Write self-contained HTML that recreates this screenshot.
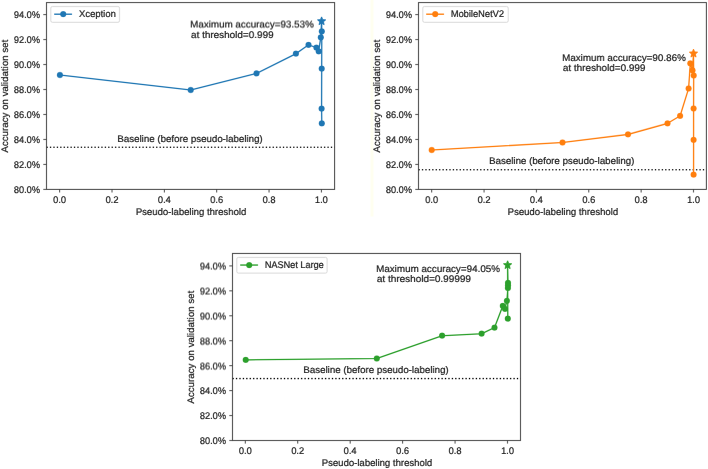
<!DOCTYPE html>
<html><head><meta charset="utf-8"><style>
html,body{margin:0;padding:0;background:#fff;}
body{width:708px;height:469px;overflow:hidden;}
svg{display:block;}
#wrap{width:708px;height:469px;will-change:transform;}
text{font-family:"Liberation Sans", sans-serif;fill:#1c1c1c;stroke:#1c1c1c;stroke-width:0.2px;text-rendering:geometricPrecision;}
</style></head><body>
<div id="wrap"><svg width="708" height="469" viewBox="0 0 708 469">
<g transform="translate(-0.15,-0.15)">
<rect x="-2" y="-2" width="712" height="473" fill="#fff"/>
<rect x="370.6" y="0" width="2.8" height="216.5" fill="#fffff0"/>
<line x1="59.66" y1="189.40" x2="59.66" y2="192.50" stroke="#3c3c3c" stroke-width="0.9"/>
<text x="59.66" y="202.90" text-anchor="middle" font-size="9.6" textLength="12.90" lengthAdjust="spacingAndGlyphs">0.0</text>
<line x1="112.01" y1="189.40" x2="112.01" y2="192.50" stroke="#3c3c3c" stroke-width="0.9"/>
<text x="112.01" y="202.90" text-anchor="middle" font-size="9.6" textLength="12.90" lengthAdjust="spacingAndGlyphs">0.2</text>
<line x1="164.36" y1="189.40" x2="164.36" y2="192.50" stroke="#3c3c3c" stroke-width="0.9"/>
<text x="164.36" y="202.90" text-anchor="middle" font-size="9.6" textLength="12.90" lengthAdjust="spacingAndGlyphs">0.4</text>
<line x1="216.70" y1="189.40" x2="216.70" y2="192.50" stroke="#3c3c3c" stroke-width="0.9"/>
<text x="216.70" y="202.90" text-anchor="middle" font-size="9.6" textLength="12.90" lengthAdjust="spacingAndGlyphs">0.6</text>
<line x1="269.05" y1="189.40" x2="269.05" y2="192.50" stroke="#3c3c3c" stroke-width="0.9"/>
<text x="269.05" y="202.90" text-anchor="middle" font-size="9.6" textLength="12.90" lengthAdjust="spacingAndGlyphs">0.8</text>
<line x1="321.40" y1="189.40" x2="321.40" y2="192.50" stroke="#3c3c3c" stroke-width="0.9"/>
<text x="321.40" y="202.90" text-anchor="middle" font-size="9.6" textLength="12.90" lengthAdjust="spacingAndGlyphs">1.0</text>
<line x1="43.30" y1="189.40" x2="46.50" y2="189.40" stroke="#3c3c3c" stroke-width="0.9"/>
<text x="40.00" y="193.10" text-anchor="end" font-size="9.6" textLength="26.10" lengthAdjust="spacingAndGlyphs">80.0%</text>
<line x1="43.30" y1="164.43" x2="46.50" y2="164.43" stroke="#3c3c3c" stroke-width="0.9"/>
<text x="40.00" y="168.13" text-anchor="end" font-size="9.6" textLength="26.10" lengthAdjust="spacingAndGlyphs">82.0%</text>
<line x1="43.30" y1="139.46" x2="46.50" y2="139.46" stroke="#3c3c3c" stroke-width="0.9"/>
<text x="40.00" y="143.16" text-anchor="end" font-size="9.6" textLength="26.10" lengthAdjust="spacingAndGlyphs">84.0%</text>
<line x1="43.30" y1="114.48" x2="46.50" y2="114.48" stroke="#3c3c3c" stroke-width="0.9"/>
<text x="40.00" y="118.18" text-anchor="end" font-size="9.6" textLength="26.10" lengthAdjust="spacingAndGlyphs">86.0%</text>
<line x1="43.30" y1="89.51" x2="46.50" y2="89.51" stroke="#3c3c3c" stroke-width="0.9"/>
<text x="40.00" y="93.21" text-anchor="end" font-size="9.6" textLength="26.10" lengthAdjust="spacingAndGlyphs">88.0%</text>
<line x1="43.30" y1="64.54" x2="46.50" y2="64.54" stroke="#3c3c3c" stroke-width="0.9"/>
<text x="40.00" y="68.24" text-anchor="end" font-size="9.6" textLength="26.10" lengthAdjust="spacingAndGlyphs">90.0%</text>
<line x1="43.30" y1="39.57" x2="46.50" y2="39.57" stroke="#3c3c3c" stroke-width="0.9"/>
<text x="40.00" y="43.27" text-anchor="end" font-size="9.6" textLength="26.10" lengthAdjust="spacingAndGlyphs">92.0%</text>
<line x1="43.30" y1="14.60" x2="46.50" y2="14.60" stroke="#3c3c3c" stroke-width="0.9"/>
<text x="40.00" y="18.30" text-anchor="end" font-size="9.6" textLength="26.10" lengthAdjust="spacingAndGlyphs">94.0%</text>
<text x="191.05" y="214.80" text-anchor="middle" font-size="9.6" textLength="110.50" lengthAdjust="spacingAndGlyphs">Pseudo-labeling threshold</text>
<text x="0" y="0" transform="translate(7.70,96.18) rotate(-90)" text-anchor="middle" font-size="9.6" textLength="112.8" lengthAdjust="spacingAndGlyphs">Accuracy on validation set</text>
<line x1="46.50" y1="147.30" x2="334.60" y2="147.30" stroke="#000" stroke-width="1.29" stroke-dasharray="1.29 2.136"/>
<text x="117.40" y="141.70" text-anchor="start" font-size="9.6" textLength="145.30" lengthAdjust="spacingAndGlyphs">Baseline (before pseudo-labeling)</text>
<polyline points="59.90,75.00 190.70,90.00 256.50,73.40 295.90,53.70 308.50,44.90 316.40,47.60 318.70,51.30 320.80,37.30 321.60,21.20 321.80,31.40 321.70,68.70 321.60,108.60 321.80,123.40" fill="none" stroke="#1f77b4" stroke-width="1.3" stroke-linejoin="round"/>
<circle cx="59.90" cy="75.00" r="3.0" fill="#1f77b4"/>
<circle cx="190.70" cy="90.00" r="3.0" fill="#1f77b4"/>
<circle cx="256.50" cy="73.40" r="3.0" fill="#1f77b4"/>
<circle cx="295.90" cy="53.70" r="3.0" fill="#1f77b4"/>
<circle cx="308.50" cy="44.90" r="3.0" fill="#1f77b4"/>
<circle cx="316.40" cy="47.60" r="3.0" fill="#1f77b4"/>
<circle cx="318.70" cy="51.30" r="3.0" fill="#1f77b4"/>
<circle cx="320.80" cy="37.30" r="3.0" fill="#1f77b4"/>
<circle cx="321.80" cy="31.40" r="3.0" fill="#1f77b4"/>
<circle cx="321.70" cy="68.70" r="3.0" fill="#1f77b4"/>
<circle cx="321.60" cy="108.60" r="3.0" fill="#1f77b4"/>
<circle cx="321.80" cy="123.40" r="3.0" fill="#1f77b4"/>
<polygon points="321.60,16.90 322.71,19.67 325.69,19.87 323.40,21.78 324.13,24.68 321.60,23.09 319.07,24.68 319.80,21.78 317.51,19.87 320.49,19.67" fill="#1f77b4" stroke="#1f77b4" stroke-width="0.9" stroke-linejoin="bevel"/>
<text x="190.20" y="27.50" text-anchor="start" font-size="9.6" textLength="123.60" lengthAdjust="spacingAndGlyphs">Maximum accuracy=93.53%</text>
<text x="191.00" y="37.70" text-anchor="start" font-size="9.6" textLength="82.60" lengthAdjust="spacingAndGlyphs">at threshold=0.999</text>
<rect x="50.80" y="6.50" width="68.70" height="15.80" rx="1.6" ry="1.6" fill="#fff" stroke="#d6d6d6" stroke-width="0.9"/>
<line x1="54.20" y1="14.20" x2="72.00" y2="14.20" stroke="#1f77b4" stroke-width="1.35"/>
<circle cx="63.20" cy="14.20" r="3.0" fill="#1f77b4"/>
<text x="79.00" y="17.30" text-anchor="start" font-size="9.6" textLength="36.80" lengthAdjust="spacingAndGlyphs">Xception</text>
<rect x="46.50" y="2.56" width="288.10" height="186.84" fill="none" stroke="#3c3c3c" stroke-width="0.95"/>
<line x1="431.70" y1="189.40" x2="431.70" y2="192.50" stroke="#3c3c3c" stroke-width="0.9"/>
<text x="431.70" y="202.90" text-anchor="middle" font-size="9.6" textLength="12.90" lengthAdjust="spacingAndGlyphs">0.0</text>
<line x1="484.06" y1="189.40" x2="484.06" y2="192.50" stroke="#3c3c3c" stroke-width="0.9"/>
<text x="484.06" y="202.90" text-anchor="middle" font-size="9.6" textLength="12.90" lengthAdjust="spacingAndGlyphs">0.2</text>
<line x1="536.42" y1="189.40" x2="536.42" y2="192.50" stroke="#3c3c3c" stroke-width="0.9"/>
<text x="536.42" y="202.90" text-anchor="middle" font-size="9.6" textLength="12.90" lengthAdjust="spacingAndGlyphs">0.4</text>
<line x1="588.78" y1="189.40" x2="588.78" y2="192.50" stroke="#3c3c3c" stroke-width="0.9"/>
<text x="588.78" y="202.90" text-anchor="middle" font-size="9.6" textLength="12.90" lengthAdjust="spacingAndGlyphs">0.6</text>
<line x1="641.14" y1="189.40" x2="641.14" y2="192.50" stroke="#3c3c3c" stroke-width="0.9"/>
<text x="641.14" y="202.90" text-anchor="middle" font-size="9.6" textLength="12.90" lengthAdjust="spacingAndGlyphs">0.8</text>
<line x1="693.50" y1="189.40" x2="693.50" y2="192.50" stroke="#3c3c3c" stroke-width="0.9"/>
<text x="693.50" y="202.90" text-anchor="middle" font-size="9.6" textLength="12.90" lengthAdjust="spacingAndGlyphs">1.0</text>
<line x1="415.30" y1="189.40" x2="418.50" y2="189.40" stroke="#3c3c3c" stroke-width="0.9"/>
<text x="412.00" y="193.10" text-anchor="end" font-size="9.6" textLength="26.10" lengthAdjust="spacingAndGlyphs">80.0%</text>
<line x1="415.30" y1="164.43" x2="418.50" y2="164.43" stroke="#3c3c3c" stroke-width="0.9"/>
<text x="412.00" y="168.13" text-anchor="end" font-size="9.6" textLength="26.10" lengthAdjust="spacingAndGlyphs">82.0%</text>
<line x1="415.30" y1="139.46" x2="418.50" y2="139.46" stroke="#3c3c3c" stroke-width="0.9"/>
<text x="412.00" y="143.16" text-anchor="end" font-size="9.6" textLength="26.10" lengthAdjust="spacingAndGlyphs">84.0%</text>
<line x1="415.30" y1="114.48" x2="418.50" y2="114.48" stroke="#3c3c3c" stroke-width="0.9"/>
<text x="412.00" y="118.18" text-anchor="end" font-size="9.6" textLength="26.10" lengthAdjust="spacingAndGlyphs">86.0%</text>
<line x1="415.30" y1="89.51" x2="418.50" y2="89.51" stroke="#3c3c3c" stroke-width="0.9"/>
<text x="412.00" y="93.21" text-anchor="end" font-size="9.6" textLength="26.10" lengthAdjust="spacingAndGlyphs">88.0%</text>
<line x1="415.30" y1="64.54" x2="418.50" y2="64.54" stroke="#3c3c3c" stroke-width="0.9"/>
<text x="412.00" y="68.24" text-anchor="end" font-size="9.6" textLength="26.10" lengthAdjust="spacingAndGlyphs">90.0%</text>
<line x1="415.30" y1="39.57" x2="418.50" y2="39.57" stroke="#3c3c3c" stroke-width="0.9"/>
<text x="412.00" y="43.27" text-anchor="end" font-size="9.6" textLength="26.10" lengthAdjust="spacingAndGlyphs">92.0%</text>
<line x1="415.30" y1="14.60" x2="418.50" y2="14.60" stroke="#3c3c3c" stroke-width="0.9"/>
<text x="412.00" y="18.30" text-anchor="end" font-size="9.6" textLength="26.10" lengthAdjust="spacingAndGlyphs">94.0%</text>
<text x="562.93" y="214.80" text-anchor="middle" font-size="9.6" textLength="110.50" lengthAdjust="spacingAndGlyphs">Pseudo-labeling threshold</text>
<text x="0" y="0" transform="translate(379.70,96.18) rotate(-90)" text-anchor="middle" font-size="9.6" textLength="112.8" lengthAdjust="spacingAndGlyphs">Accuracy on validation set</text>
<line x1="418.50" y1="169.70" x2="706.36" y2="169.70" stroke="#000" stroke-width="1.29" stroke-dasharray="1.29 2.136"/>
<text x="489.10" y="163.80" text-anchor="start" font-size="9.6" textLength="145.30" lengthAdjust="spacingAndGlyphs">Baseline (before pseudo-labeling)</text>
<polyline points="431.70,150.00 562.50,142.50 628.00,134.40 667.50,123.40 680.10,115.90 688.60,88.50 690.30,63.40 692.50,70.30 693.50,53.50 693.70,75.50 693.60,108.50 693.60,139.90 693.60,174.70" fill="none" stroke="#ff7f0e" stroke-width="1.3" stroke-linejoin="round"/>
<circle cx="431.70" cy="150.00" r="3.0" fill="#ff7f0e"/>
<circle cx="562.50" cy="142.50" r="3.0" fill="#ff7f0e"/>
<circle cx="628.00" cy="134.40" r="3.0" fill="#ff7f0e"/>
<circle cx="667.50" cy="123.40" r="3.0" fill="#ff7f0e"/>
<circle cx="680.10" cy="115.90" r="3.0" fill="#ff7f0e"/>
<circle cx="688.60" cy="88.50" r="3.0" fill="#ff7f0e"/>
<circle cx="690.30" cy="63.40" r="3.0" fill="#ff7f0e"/>
<circle cx="692.50" cy="70.30" r="3.0" fill="#ff7f0e"/>
<circle cx="693.70" cy="75.50" r="3.0" fill="#ff7f0e"/>
<circle cx="693.60" cy="108.50" r="3.0" fill="#ff7f0e"/>
<circle cx="693.60" cy="139.90" r="3.0" fill="#ff7f0e"/>
<circle cx="693.60" cy="174.70" r="3.0" fill="#ff7f0e"/>
<polygon points="693.50,49.20 694.61,51.97 697.59,52.17 695.30,54.08 696.03,56.98 693.50,55.39 690.97,56.98 691.70,54.08 689.41,52.17 692.39,51.97" fill="#ff7f0e" stroke="#ff7f0e" stroke-width="0.9" stroke-linejoin="bevel"/>
<text x="562.10" y="60.90" text-anchor="start" font-size="9.6" textLength="123.70" lengthAdjust="spacingAndGlyphs">Maximum accuracy=90.86%</text>
<text x="562.90" y="71.10" text-anchor="start" font-size="9.6" textLength="82.50" lengthAdjust="spacingAndGlyphs">at threshold=0.999</text>
<rect x="422.80" y="6.50" width="85.40" height="15.80" rx="1.6" ry="1.6" fill="#fff" stroke="#d6d6d6" stroke-width="0.9"/>
<line x1="426.20" y1="14.20" x2="444.00" y2="14.20" stroke="#ff7f0e" stroke-width="1.35"/>
<circle cx="435.20" cy="14.20" r="3.0" fill="#ff7f0e"/>
<text x="450.80" y="17.10" text-anchor="start" font-size="9.6" textLength="53.20" lengthAdjust="spacingAndGlyphs">MobileNetV2</text>
<rect x="418.50" y="2.56" width="287.86" height="186.84" fill="none" stroke="#3c3c3c" stroke-width="0.95"/>
<line x1="245.30" y1="440.50" x2="245.30" y2="443.60" stroke="#3c3c3c" stroke-width="0.9"/>
<text x="245.30" y="454.00" text-anchor="middle" font-size="9.6" textLength="12.90" lengthAdjust="spacingAndGlyphs">0.0</text>
<line x1="297.74" y1="440.50" x2="297.74" y2="443.60" stroke="#3c3c3c" stroke-width="0.9"/>
<text x="297.74" y="454.00" text-anchor="middle" font-size="9.6" textLength="12.90" lengthAdjust="spacingAndGlyphs">0.2</text>
<line x1="350.18" y1="440.50" x2="350.18" y2="443.60" stroke="#3c3c3c" stroke-width="0.9"/>
<text x="350.18" y="454.00" text-anchor="middle" font-size="9.6" textLength="12.90" lengthAdjust="spacingAndGlyphs">0.4</text>
<line x1="402.62" y1="440.50" x2="402.62" y2="443.60" stroke="#3c3c3c" stroke-width="0.9"/>
<text x="402.62" y="454.00" text-anchor="middle" font-size="9.6" textLength="12.90" lengthAdjust="spacingAndGlyphs">0.6</text>
<line x1="455.06" y1="440.50" x2="455.06" y2="443.60" stroke="#3c3c3c" stroke-width="0.9"/>
<text x="455.06" y="454.00" text-anchor="middle" font-size="9.6" textLength="12.90" lengthAdjust="spacingAndGlyphs">0.8</text>
<line x1="507.50" y1="440.50" x2="507.50" y2="443.60" stroke="#3c3c3c" stroke-width="0.9"/>
<text x="507.50" y="454.00" text-anchor="middle" font-size="9.6" textLength="12.90" lengthAdjust="spacingAndGlyphs">1.0</text>
<line x1="229.30" y1="440.50" x2="232.50" y2="440.50" stroke="#3c3c3c" stroke-width="0.9"/>
<text x="226.00" y="444.20" text-anchor="end" font-size="9.6" textLength="26.10" lengthAdjust="spacingAndGlyphs">80.0%</text>
<line x1="229.30" y1="415.56" x2="232.50" y2="415.56" stroke="#3c3c3c" stroke-width="0.9"/>
<text x="226.00" y="419.26" text-anchor="end" font-size="9.6" textLength="26.10" lengthAdjust="spacingAndGlyphs">82.0%</text>
<line x1="229.30" y1="390.62" x2="232.50" y2="390.62" stroke="#3c3c3c" stroke-width="0.9"/>
<text x="226.00" y="394.32" text-anchor="end" font-size="9.6" textLength="26.10" lengthAdjust="spacingAndGlyphs">84.0%</text>
<line x1="229.30" y1="365.68" x2="232.50" y2="365.68" stroke="#3c3c3c" stroke-width="0.9"/>
<text x="226.00" y="369.38" text-anchor="end" font-size="9.6" textLength="26.10" lengthAdjust="spacingAndGlyphs">86.0%</text>
<line x1="229.30" y1="340.74" x2="232.50" y2="340.74" stroke="#3c3c3c" stroke-width="0.9"/>
<text x="226.00" y="344.44" text-anchor="end" font-size="9.6" textLength="26.10" lengthAdjust="spacingAndGlyphs">88.0%</text>
<line x1="229.30" y1="315.80" x2="232.50" y2="315.80" stroke="#3c3c3c" stroke-width="0.9"/>
<text x="226.00" y="319.50" text-anchor="end" font-size="9.6" textLength="26.10" lengthAdjust="spacingAndGlyphs">90.0%</text>
<line x1="229.30" y1="290.86" x2="232.50" y2="290.86" stroke="#3c3c3c" stroke-width="0.9"/>
<text x="226.00" y="294.56" text-anchor="end" font-size="9.6" textLength="26.10" lengthAdjust="spacingAndGlyphs">92.0%</text>
<line x1="229.30" y1="265.92" x2="232.50" y2="265.92" stroke="#3c3c3c" stroke-width="0.9"/>
<text x="226.00" y="269.62" text-anchor="end" font-size="9.6" textLength="26.10" lengthAdjust="spacingAndGlyphs">94.0%</text>
<text x="377.00" y="465.90" text-anchor="middle" font-size="9.6" textLength="110.50" lengthAdjust="spacingAndGlyphs">Pseudo-labeling threshold</text>
<text x="0" y="0" transform="translate(193.70,347.18) rotate(-90)" text-anchor="middle" font-size="9.6" textLength="112.8" lengthAdjust="spacingAndGlyphs">Accuracy on validation set</text>
<line x1="232.50" y1="378.60" x2="520.50" y2="378.60" stroke="#000" stroke-width="1.29" stroke-dasharray="1.29 2.136"/>
<text x="303.40" y="372.90" text-anchor="start" font-size="9.6" textLength="145.30" lengthAdjust="spacingAndGlyphs">Baseline (before pseudo-labeling)</text>
<polyline points="245.70,359.90 376.80,358.50 442.10,335.70 481.60,333.70 494.50,327.60 502.80,305.90 505.00,308.80 506.90,300.80 507.90,288.00 508.00,285.30 508.00,282.80 507.60,265.10 507.80,318.60" fill="none" stroke="#2ca02c" stroke-width="1.3" stroke-linejoin="round"/>
<circle cx="245.70" cy="359.90" r="3.0" fill="#2ca02c"/>
<circle cx="376.80" cy="358.50" r="3.0" fill="#2ca02c"/>
<circle cx="442.10" cy="335.70" r="3.0" fill="#2ca02c"/>
<circle cx="481.60" cy="333.70" r="3.0" fill="#2ca02c"/>
<circle cx="494.50" cy="327.60" r="3.0" fill="#2ca02c"/>
<circle cx="502.80" cy="305.90" r="3.0" fill="#2ca02c"/>
<circle cx="505.00" cy="308.80" r="3.0" fill="#2ca02c"/>
<circle cx="506.90" cy="300.80" r="3.0" fill="#2ca02c"/>
<circle cx="507.90" cy="288.00" r="3.0" fill="#2ca02c"/>
<circle cx="508.00" cy="285.30" r="3.0" fill="#2ca02c"/>
<circle cx="508.00" cy="282.80" r="3.0" fill="#2ca02c"/>
<circle cx="507.80" cy="318.60" r="3.0" fill="#2ca02c"/>
<polygon points="507.60,260.80 508.71,263.57 511.69,263.77 509.40,265.68 510.13,268.58 507.60,266.99 505.07,268.58 505.80,265.68 503.51,263.77 506.49,263.57" fill="#2ca02c" stroke="#2ca02c" stroke-width="0.9" stroke-linejoin="bevel"/>
<text x="376.10" y="271.80" text-anchor="start" font-size="9.6" textLength="123.90" lengthAdjust="spacingAndGlyphs">Maximum accuracy=94.05%</text>
<text x="376.90" y="282.00" text-anchor="start" font-size="9.6" textLength="94.10" lengthAdjust="spacingAndGlyphs">at threshold=0.99999</text>
<rect x="236.80" y="257.40" width="90.30" height="15.70" rx="1.6" ry="1.6" fill="#fff" stroke="#d6d6d6" stroke-width="0.9"/>
<line x1="240.20" y1="265.05" x2="258.00" y2="265.05" stroke="#2ca02c" stroke-width="1.35"/>
<circle cx="249.20" cy="265.05" r="3.0" fill="#2ca02c"/>
<text x="264.80" y="268.10" text-anchor="start" font-size="9.6" textLength="59.00" lengthAdjust="spacingAndGlyphs">NASNet Large</text>
<rect x="232.50" y="253.45" width="288.00" height="187.05" fill="none" stroke="#3c3c3c" stroke-width="0.95"/>
</g>
<g transform="translate(0.15,-0.15)" opacity="0.5">
<rect x="-2" y="-2" width="712" height="473" fill="#fff"/>
<rect x="370.6" y="0" width="2.8" height="216.5" fill="#fffff0"/>
<line x1="59.66" y1="189.40" x2="59.66" y2="192.50" stroke="#3c3c3c" stroke-width="0.9"/>
<text x="59.66" y="202.90" text-anchor="middle" font-size="9.6" textLength="12.90" lengthAdjust="spacingAndGlyphs">0.0</text>
<line x1="112.01" y1="189.40" x2="112.01" y2="192.50" stroke="#3c3c3c" stroke-width="0.9"/>
<text x="112.01" y="202.90" text-anchor="middle" font-size="9.6" textLength="12.90" lengthAdjust="spacingAndGlyphs">0.2</text>
<line x1="164.36" y1="189.40" x2="164.36" y2="192.50" stroke="#3c3c3c" stroke-width="0.9"/>
<text x="164.36" y="202.90" text-anchor="middle" font-size="9.6" textLength="12.90" lengthAdjust="spacingAndGlyphs">0.4</text>
<line x1="216.70" y1="189.40" x2="216.70" y2="192.50" stroke="#3c3c3c" stroke-width="0.9"/>
<text x="216.70" y="202.90" text-anchor="middle" font-size="9.6" textLength="12.90" lengthAdjust="spacingAndGlyphs">0.6</text>
<line x1="269.05" y1="189.40" x2="269.05" y2="192.50" stroke="#3c3c3c" stroke-width="0.9"/>
<text x="269.05" y="202.90" text-anchor="middle" font-size="9.6" textLength="12.90" lengthAdjust="spacingAndGlyphs">0.8</text>
<line x1="321.40" y1="189.40" x2="321.40" y2="192.50" stroke="#3c3c3c" stroke-width="0.9"/>
<text x="321.40" y="202.90" text-anchor="middle" font-size="9.6" textLength="12.90" lengthAdjust="spacingAndGlyphs">1.0</text>
<line x1="43.30" y1="189.40" x2="46.50" y2="189.40" stroke="#3c3c3c" stroke-width="0.9"/>
<text x="40.00" y="193.10" text-anchor="end" font-size="9.6" textLength="26.10" lengthAdjust="spacingAndGlyphs">80.0%</text>
<line x1="43.30" y1="164.43" x2="46.50" y2="164.43" stroke="#3c3c3c" stroke-width="0.9"/>
<text x="40.00" y="168.13" text-anchor="end" font-size="9.6" textLength="26.10" lengthAdjust="spacingAndGlyphs">82.0%</text>
<line x1="43.30" y1="139.46" x2="46.50" y2="139.46" stroke="#3c3c3c" stroke-width="0.9"/>
<text x="40.00" y="143.16" text-anchor="end" font-size="9.6" textLength="26.10" lengthAdjust="spacingAndGlyphs">84.0%</text>
<line x1="43.30" y1="114.48" x2="46.50" y2="114.48" stroke="#3c3c3c" stroke-width="0.9"/>
<text x="40.00" y="118.18" text-anchor="end" font-size="9.6" textLength="26.10" lengthAdjust="spacingAndGlyphs">86.0%</text>
<line x1="43.30" y1="89.51" x2="46.50" y2="89.51" stroke="#3c3c3c" stroke-width="0.9"/>
<text x="40.00" y="93.21" text-anchor="end" font-size="9.6" textLength="26.10" lengthAdjust="spacingAndGlyphs">88.0%</text>
<line x1="43.30" y1="64.54" x2="46.50" y2="64.54" stroke="#3c3c3c" stroke-width="0.9"/>
<text x="40.00" y="68.24" text-anchor="end" font-size="9.6" textLength="26.10" lengthAdjust="spacingAndGlyphs">90.0%</text>
<line x1="43.30" y1="39.57" x2="46.50" y2="39.57" stroke="#3c3c3c" stroke-width="0.9"/>
<text x="40.00" y="43.27" text-anchor="end" font-size="9.6" textLength="26.10" lengthAdjust="spacingAndGlyphs">92.0%</text>
<line x1="43.30" y1="14.60" x2="46.50" y2="14.60" stroke="#3c3c3c" stroke-width="0.9"/>
<text x="40.00" y="18.30" text-anchor="end" font-size="9.6" textLength="26.10" lengthAdjust="spacingAndGlyphs">94.0%</text>
<text x="191.05" y="214.80" text-anchor="middle" font-size="9.6" textLength="110.50" lengthAdjust="spacingAndGlyphs">Pseudo-labeling threshold</text>
<text x="0" y="0" transform="translate(7.70,96.18) rotate(-90)" text-anchor="middle" font-size="9.6" textLength="112.8" lengthAdjust="spacingAndGlyphs">Accuracy on validation set</text>
<line x1="46.50" y1="147.30" x2="334.60" y2="147.30" stroke="#000" stroke-width="1.29" stroke-dasharray="1.29 2.136"/>
<text x="117.40" y="141.70" text-anchor="start" font-size="9.6" textLength="145.30" lengthAdjust="spacingAndGlyphs">Baseline (before pseudo-labeling)</text>
<polyline points="59.90,75.00 190.70,90.00 256.50,73.40 295.90,53.70 308.50,44.90 316.40,47.60 318.70,51.30 320.80,37.30 321.60,21.20 321.80,31.40 321.70,68.70 321.60,108.60 321.80,123.40" fill="none" stroke="#1f77b4" stroke-width="1.3" stroke-linejoin="round"/>
<circle cx="59.90" cy="75.00" r="3.0" fill="#1f77b4"/>
<circle cx="190.70" cy="90.00" r="3.0" fill="#1f77b4"/>
<circle cx="256.50" cy="73.40" r="3.0" fill="#1f77b4"/>
<circle cx="295.90" cy="53.70" r="3.0" fill="#1f77b4"/>
<circle cx="308.50" cy="44.90" r="3.0" fill="#1f77b4"/>
<circle cx="316.40" cy="47.60" r="3.0" fill="#1f77b4"/>
<circle cx="318.70" cy="51.30" r="3.0" fill="#1f77b4"/>
<circle cx="320.80" cy="37.30" r="3.0" fill="#1f77b4"/>
<circle cx="321.80" cy="31.40" r="3.0" fill="#1f77b4"/>
<circle cx="321.70" cy="68.70" r="3.0" fill="#1f77b4"/>
<circle cx="321.60" cy="108.60" r="3.0" fill="#1f77b4"/>
<circle cx="321.80" cy="123.40" r="3.0" fill="#1f77b4"/>
<polygon points="321.60,16.90 322.71,19.67 325.69,19.87 323.40,21.78 324.13,24.68 321.60,23.09 319.07,24.68 319.80,21.78 317.51,19.87 320.49,19.67" fill="#1f77b4" stroke="#1f77b4" stroke-width="0.9" stroke-linejoin="bevel"/>
<text x="190.20" y="27.50" text-anchor="start" font-size="9.6" textLength="123.60" lengthAdjust="spacingAndGlyphs">Maximum accuracy=93.53%</text>
<text x="191.00" y="37.70" text-anchor="start" font-size="9.6" textLength="82.60" lengthAdjust="spacingAndGlyphs">at threshold=0.999</text>
<rect x="50.80" y="6.50" width="68.70" height="15.80" rx="1.6" ry="1.6" fill="#fff" stroke="#d6d6d6" stroke-width="0.9"/>
<line x1="54.20" y1="14.20" x2="72.00" y2="14.20" stroke="#1f77b4" stroke-width="1.35"/>
<circle cx="63.20" cy="14.20" r="3.0" fill="#1f77b4"/>
<text x="79.00" y="17.30" text-anchor="start" font-size="9.6" textLength="36.80" lengthAdjust="spacingAndGlyphs">Xception</text>
<rect x="46.50" y="2.56" width="288.10" height="186.84" fill="none" stroke="#3c3c3c" stroke-width="0.95"/>
<line x1="431.70" y1="189.40" x2="431.70" y2="192.50" stroke="#3c3c3c" stroke-width="0.9"/>
<text x="431.70" y="202.90" text-anchor="middle" font-size="9.6" textLength="12.90" lengthAdjust="spacingAndGlyphs">0.0</text>
<line x1="484.06" y1="189.40" x2="484.06" y2="192.50" stroke="#3c3c3c" stroke-width="0.9"/>
<text x="484.06" y="202.90" text-anchor="middle" font-size="9.6" textLength="12.90" lengthAdjust="spacingAndGlyphs">0.2</text>
<line x1="536.42" y1="189.40" x2="536.42" y2="192.50" stroke="#3c3c3c" stroke-width="0.9"/>
<text x="536.42" y="202.90" text-anchor="middle" font-size="9.6" textLength="12.90" lengthAdjust="spacingAndGlyphs">0.4</text>
<line x1="588.78" y1="189.40" x2="588.78" y2="192.50" stroke="#3c3c3c" stroke-width="0.9"/>
<text x="588.78" y="202.90" text-anchor="middle" font-size="9.6" textLength="12.90" lengthAdjust="spacingAndGlyphs">0.6</text>
<line x1="641.14" y1="189.40" x2="641.14" y2="192.50" stroke="#3c3c3c" stroke-width="0.9"/>
<text x="641.14" y="202.90" text-anchor="middle" font-size="9.6" textLength="12.90" lengthAdjust="spacingAndGlyphs">0.8</text>
<line x1="693.50" y1="189.40" x2="693.50" y2="192.50" stroke="#3c3c3c" stroke-width="0.9"/>
<text x="693.50" y="202.90" text-anchor="middle" font-size="9.6" textLength="12.90" lengthAdjust="spacingAndGlyphs">1.0</text>
<line x1="415.30" y1="189.40" x2="418.50" y2="189.40" stroke="#3c3c3c" stroke-width="0.9"/>
<text x="412.00" y="193.10" text-anchor="end" font-size="9.6" textLength="26.10" lengthAdjust="spacingAndGlyphs">80.0%</text>
<line x1="415.30" y1="164.43" x2="418.50" y2="164.43" stroke="#3c3c3c" stroke-width="0.9"/>
<text x="412.00" y="168.13" text-anchor="end" font-size="9.6" textLength="26.10" lengthAdjust="spacingAndGlyphs">82.0%</text>
<line x1="415.30" y1="139.46" x2="418.50" y2="139.46" stroke="#3c3c3c" stroke-width="0.9"/>
<text x="412.00" y="143.16" text-anchor="end" font-size="9.6" textLength="26.10" lengthAdjust="spacingAndGlyphs">84.0%</text>
<line x1="415.30" y1="114.48" x2="418.50" y2="114.48" stroke="#3c3c3c" stroke-width="0.9"/>
<text x="412.00" y="118.18" text-anchor="end" font-size="9.6" textLength="26.10" lengthAdjust="spacingAndGlyphs">86.0%</text>
<line x1="415.30" y1="89.51" x2="418.50" y2="89.51" stroke="#3c3c3c" stroke-width="0.9"/>
<text x="412.00" y="93.21" text-anchor="end" font-size="9.6" textLength="26.10" lengthAdjust="spacingAndGlyphs">88.0%</text>
<line x1="415.30" y1="64.54" x2="418.50" y2="64.54" stroke="#3c3c3c" stroke-width="0.9"/>
<text x="412.00" y="68.24" text-anchor="end" font-size="9.6" textLength="26.10" lengthAdjust="spacingAndGlyphs">90.0%</text>
<line x1="415.30" y1="39.57" x2="418.50" y2="39.57" stroke="#3c3c3c" stroke-width="0.9"/>
<text x="412.00" y="43.27" text-anchor="end" font-size="9.6" textLength="26.10" lengthAdjust="spacingAndGlyphs">92.0%</text>
<line x1="415.30" y1="14.60" x2="418.50" y2="14.60" stroke="#3c3c3c" stroke-width="0.9"/>
<text x="412.00" y="18.30" text-anchor="end" font-size="9.6" textLength="26.10" lengthAdjust="spacingAndGlyphs">94.0%</text>
<text x="562.93" y="214.80" text-anchor="middle" font-size="9.6" textLength="110.50" lengthAdjust="spacingAndGlyphs">Pseudo-labeling threshold</text>
<text x="0" y="0" transform="translate(379.70,96.18) rotate(-90)" text-anchor="middle" font-size="9.6" textLength="112.8" lengthAdjust="spacingAndGlyphs">Accuracy on validation set</text>
<line x1="418.50" y1="169.70" x2="706.36" y2="169.70" stroke="#000" stroke-width="1.29" stroke-dasharray="1.29 2.136"/>
<text x="489.10" y="163.80" text-anchor="start" font-size="9.6" textLength="145.30" lengthAdjust="spacingAndGlyphs">Baseline (before pseudo-labeling)</text>
<polyline points="431.70,150.00 562.50,142.50 628.00,134.40 667.50,123.40 680.10,115.90 688.60,88.50 690.30,63.40 692.50,70.30 693.50,53.50 693.70,75.50 693.60,108.50 693.60,139.90 693.60,174.70" fill="none" stroke="#ff7f0e" stroke-width="1.3" stroke-linejoin="round"/>
<circle cx="431.70" cy="150.00" r="3.0" fill="#ff7f0e"/>
<circle cx="562.50" cy="142.50" r="3.0" fill="#ff7f0e"/>
<circle cx="628.00" cy="134.40" r="3.0" fill="#ff7f0e"/>
<circle cx="667.50" cy="123.40" r="3.0" fill="#ff7f0e"/>
<circle cx="680.10" cy="115.90" r="3.0" fill="#ff7f0e"/>
<circle cx="688.60" cy="88.50" r="3.0" fill="#ff7f0e"/>
<circle cx="690.30" cy="63.40" r="3.0" fill="#ff7f0e"/>
<circle cx="692.50" cy="70.30" r="3.0" fill="#ff7f0e"/>
<circle cx="693.70" cy="75.50" r="3.0" fill="#ff7f0e"/>
<circle cx="693.60" cy="108.50" r="3.0" fill="#ff7f0e"/>
<circle cx="693.60" cy="139.90" r="3.0" fill="#ff7f0e"/>
<circle cx="693.60" cy="174.70" r="3.0" fill="#ff7f0e"/>
<polygon points="693.50,49.20 694.61,51.97 697.59,52.17 695.30,54.08 696.03,56.98 693.50,55.39 690.97,56.98 691.70,54.08 689.41,52.17 692.39,51.97" fill="#ff7f0e" stroke="#ff7f0e" stroke-width="0.9" stroke-linejoin="bevel"/>
<text x="562.10" y="60.90" text-anchor="start" font-size="9.6" textLength="123.70" lengthAdjust="spacingAndGlyphs">Maximum accuracy=90.86%</text>
<text x="562.90" y="71.10" text-anchor="start" font-size="9.6" textLength="82.50" lengthAdjust="spacingAndGlyphs">at threshold=0.999</text>
<rect x="422.80" y="6.50" width="85.40" height="15.80" rx="1.6" ry="1.6" fill="#fff" stroke="#d6d6d6" stroke-width="0.9"/>
<line x1="426.20" y1="14.20" x2="444.00" y2="14.20" stroke="#ff7f0e" stroke-width="1.35"/>
<circle cx="435.20" cy="14.20" r="3.0" fill="#ff7f0e"/>
<text x="450.80" y="17.10" text-anchor="start" font-size="9.6" textLength="53.20" lengthAdjust="spacingAndGlyphs">MobileNetV2</text>
<rect x="418.50" y="2.56" width="287.86" height="186.84" fill="none" stroke="#3c3c3c" stroke-width="0.95"/>
<line x1="245.30" y1="440.50" x2="245.30" y2="443.60" stroke="#3c3c3c" stroke-width="0.9"/>
<text x="245.30" y="454.00" text-anchor="middle" font-size="9.6" textLength="12.90" lengthAdjust="spacingAndGlyphs">0.0</text>
<line x1="297.74" y1="440.50" x2="297.74" y2="443.60" stroke="#3c3c3c" stroke-width="0.9"/>
<text x="297.74" y="454.00" text-anchor="middle" font-size="9.6" textLength="12.90" lengthAdjust="spacingAndGlyphs">0.2</text>
<line x1="350.18" y1="440.50" x2="350.18" y2="443.60" stroke="#3c3c3c" stroke-width="0.9"/>
<text x="350.18" y="454.00" text-anchor="middle" font-size="9.6" textLength="12.90" lengthAdjust="spacingAndGlyphs">0.4</text>
<line x1="402.62" y1="440.50" x2="402.62" y2="443.60" stroke="#3c3c3c" stroke-width="0.9"/>
<text x="402.62" y="454.00" text-anchor="middle" font-size="9.6" textLength="12.90" lengthAdjust="spacingAndGlyphs">0.6</text>
<line x1="455.06" y1="440.50" x2="455.06" y2="443.60" stroke="#3c3c3c" stroke-width="0.9"/>
<text x="455.06" y="454.00" text-anchor="middle" font-size="9.6" textLength="12.90" lengthAdjust="spacingAndGlyphs">0.8</text>
<line x1="507.50" y1="440.50" x2="507.50" y2="443.60" stroke="#3c3c3c" stroke-width="0.9"/>
<text x="507.50" y="454.00" text-anchor="middle" font-size="9.6" textLength="12.90" lengthAdjust="spacingAndGlyphs">1.0</text>
<line x1="229.30" y1="440.50" x2="232.50" y2="440.50" stroke="#3c3c3c" stroke-width="0.9"/>
<text x="226.00" y="444.20" text-anchor="end" font-size="9.6" textLength="26.10" lengthAdjust="spacingAndGlyphs">80.0%</text>
<line x1="229.30" y1="415.56" x2="232.50" y2="415.56" stroke="#3c3c3c" stroke-width="0.9"/>
<text x="226.00" y="419.26" text-anchor="end" font-size="9.6" textLength="26.10" lengthAdjust="spacingAndGlyphs">82.0%</text>
<line x1="229.30" y1="390.62" x2="232.50" y2="390.62" stroke="#3c3c3c" stroke-width="0.9"/>
<text x="226.00" y="394.32" text-anchor="end" font-size="9.6" textLength="26.10" lengthAdjust="spacingAndGlyphs">84.0%</text>
<line x1="229.30" y1="365.68" x2="232.50" y2="365.68" stroke="#3c3c3c" stroke-width="0.9"/>
<text x="226.00" y="369.38" text-anchor="end" font-size="9.6" textLength="26.10" lengthAdjust="spacingAndGlyphs">86.0%</text>
<line x1="229.30" y1="340.74" x2="232.50" y2="340.74" stroke="#3c3c3c" stroke-width="0.9"/>
<text x="226.00" y="344.44" text-anchor="end" font-size="9.6" textLength="26.10" lengthAdjust="spacingAndGlyphs">88.0%</text>
<line x1="229.30" y1="315.80" x2="232.50" y2="315.80" stroke="#3c3c3c" stroke-width="0.9"/>
<text x="226.00" y="319.50" text-anchor="end" font-size="9.6" textLength="26.10" lengthAdjust="spacingAndGlyphs">90.0%</text>
<line x1="229.30" y1="290.86" x2="232.50" y2="290.86" stroke="#3c3c3c" stroke-width="0.9"/>
<text x="226.00" y="294.56" text-anchor="end" font-size="9.6" textLength="26.10" lengthAdjust="spacingAndGlyphs">92.0%</text>
<line x1="229.30" y1="265.92" x2="232.50" y2="265.92" stroke="#3c3c3c" stroke-width="0.9"/>
<text x="226.00" y="269.62" text-anchor="end" font-size="9.6" textLength="26.10" lengthAdjust="spacingAndGlyphs">94.0%</text>
<text x="377.00" y="465.90" text-anchor="middle" font-size="9.6" textLength="110.50" lengthAdjust="spacingAndGlyphs">Pseudo-labeling threshold</text>
<text x="0" y="0" transform="translate(193.70,347.18) rotate(-90)" text-anchor="middle" font-size="9.6" textLength="112.8" lengthAdjust="spacingAndGlyphs">Accuracy on validation set</text>
<line x1="232.50" y1="378.60" x2="520.50" y2="378.60" stroke="#000" stroke-width="1.29" stroke-dasharray="1.29 2.136"/>
<text x="303.40" y="372.90" text-anchor="start" font-size="9.6" textLength="145.30" lengthAdjust="spacingAndGlyphs">Baseline (before pseudo-labeling)</text>
<polyline points="245.70,359.90 376.80,358.50 442.10,335.70 481.60,333.70 494.50,327.60 502.80,305.90 505.00,308.80 506.90,300.80 507.90,288.00 508.00,285.30 508.00,282.80 507.60,265.10 507.80,318.60" fill="none" stroke="#2ca02c" stroke-width="1.3" stroke-linejoin="round"/>
<circle cx="245.70" cy="359.90" r="3.0" fill="#2ca02c"/>
<circle cx="376.80" cy="358.50" r="3.0" fill="#2ca02c"/>
<circle cx="442.10" cy="335.70" r="3.0" fill="#2ca02c"/>
<circle cx="481.60" cy="333.70" r="3.0" fill="#2ca02c"/>
<circle cx="494.50" cy="327.60" r="3.0" fill="#2ca02c"/>
<circle cx="502.80" cy="305.90" r="3.0" fill="#2ca02c"/>
<circle cx="505.00" cy="308.80" r="3.0" fill="#2ca02c"/>
<circle cx="506.90" cy="300.80" r="3.0" fill="#2ca02c"/>
<circle cx="507.90" cy="288.00" r="3.0" fill="#2ca02c"/>
<circle cx="508.00" cy="285.30" r="3.0" fill="#2ca02c"/>
<circle cx="508.00" cy="282.80" r="3.0" fill="#2ca02c"/>
<circle cx="507.80" cy="318.60" r="3.0" fill="#2ca02c"/>
<polygon points="507.60,260.80 508.71,263.57 511.69,263.77 509.40,265.68 510.13,268.58 507.60,266.99 505.07,268.58 505.80,265.68 503.51,263.77 506.49,263.57" fill="#2ca02c" stroke="#2ca02c" stroke-width="0.9" stroke-linejoin="bevel"/>
<text x="376.10" y="271.80" text-anchor="start" font-size="9.6" textLength="123.90" lengthAdjust="spacingAndGlyphs">Maximum accuracy=94.05%</text>
<text x="376.90" y="282.00" text-anchor="start" font-size="9.6" textLength="94.10" lengthAdjust="spacingAndGlyphs">at threshold=0.99999</text>
<rect x="236.80" y="257.40" width="90.30" height="15.70" rx="1.6" ry="1.6" fill="#fff" stroke="#d6d6d6" stroke-width="0.9"/>
<line x1="240.20" y1="265.05" x2="258.00" y2="265.05" stroke="#2ca02c" stroke-width="1.35"/>
<circle cx="249.20" cy="265.05" r="3.0" fill="#2ca02c"/>
<text x="264.80" y="268.10" text-anchor="start" font-size="9.6" textLength="59.00" lengthAdjust="spacingAndGlyphs">NASNet Large</text>
<rect x="232.50" y="253.45" width="288.00" height="187.05" fill="none" stroke="#3c3c3c" stroke-width="0.95"/>
</g>
<g transform="translate(-0.15,0.15)" opacity="0.3333">
<rect x="-2" y="-2" width="712" height="473" fill="#fff"/>
<rect x="370.6" y="0" width="2.8" height="216.5" fill="#fffff0"/>
<line x1="59.66" y1="189.40" x2="59.66" y2="192.50" stroke="#3c3c3c" stroke-width="0.9"/>
<text x="59.66" y="202.90" text-anchor="middle" font-size="9.6" textLength="12.90" lengthAdjust="spacingAndGlyphs">0.0</text>
<line x1="112.01" y1="189.40" x2="112.01" y2="192.50" stroke="#3c3c3c" stroke-width="0.9"/>
<text x="112.01" y="202.90" text-anchor="middle" font-size="9.6" textLength="12.90" lengthAdjust="spacingAndGlyphs">0.2</text>
<line x1="164.36" y1="189.40" x2="164.36" y2="192.50" stroke="#3c3c3c" stroke-width="0.9"/>
<text x="164.36" y="202.90" text-anchor="middle" font-size="9.6" textLength="12.90" lengthAdjust="spacingAndGlyphs">0.4</text>
<line x1="216.70" y1="189.40" x2="216.70" y2="192.50" stroke="#3c3c3c" stroke-width="0.9"/>
<text x="216.70" y="202.90" text-anchor="middle" font-size="9.6" textLength="12.90" lengthAdjust="spacingAndGlyphs">0.6</text>
<line x1="269.05" y1="189.40" x2="269.05" y2="192.50" stroke="#3c3c3c" stroke-width="0.9"/>
<text x="269.05" y="202.90" text-anchor="middle" font-size="9.6" textLength="12.90" lengthAdjust="spacingAndGlyphs">0.8</text>
<line x1="321.40" y1="189.40" x2="321.40" y2="192.50" stroke="#3c3c3c" stroke-width="0.9"/>
<text x="321.40" y="202.90" text-anchor="middle" font-size="9.6" textLength="12.90" lengthAdjust="spacingAndGlyphs">1.0</text>
<line x1="43.30" y1="189.40" x2="46.50" y2="189.40" stroke="#3c3c3c" stroke-width="0.9"/>
<text x="40.00" y="193.10" text-anchor="end" font-size="9.6" textLength="26.10" lengthAdjust="spacingAndGlyphs">80.0%</text>
<line x1="43.30" y1="164.43" x2="46.50" y2="164.43" stroke="#3c3c3c" stroke-width="0.9"/>
<text x="40.00" y="168.13" text-anchor="end" font-size="9.6" textLength="26.10" lengthAdjust="spacingAndGlyphs">82.0%</text>
<line x1="43.30" y1="139.46" x2="46.50" y2="139.46" stroke="#3c3c3c" stroke-width="0.9"/>
<text x="40.00" y="143.16" text-anchor="end" font-size="9.6" textLength="26.10" lengthAdjust="spacingAndGlyphs">84.0%</text>
<line x1="43.30" y1="114.48" x2="46.50" y2="114.48" stroke="#3c3c3c" stroke-width="0.9"/>
<text x="40.00" y="118.18" text-anchor="end" font-size="9.6" textLength="26.10" lengthAdjust="spacingAndGlyphs">86.0%</text>
<line x1="43.30" y1="89.51" x2="46.50" y2="89.51" stroke="#3c3c3c" stroke-width="0.9"/>
<text x="40.00" y="93.21" text-anchor="end" font-size="9.6" textLength="26.10" lengthAdjust="spacingAndGlyphs">88.0%</text>
<line x1="43.30" y1="64.54" x2="46.50" y2="64.54" stroke="#3c3c3c" stroke-width="0.9"/>
<text x="40.00" y="68.24" text-anchor="end" font-size="9.6" textLength="26.10" lengthAdjust="spacingAndGlyphs">90.0%</text>
<line x1="43.30" y1="39.57" x2="46.50" y2="39.57" stroke="#3c3c3c" stroke-width="0.9"/>
<text x="40.00" y="43.27" text-anchor="end" font-size="9.6" textLength="26.10" lengthAdjust="spacingAndGlyphs">92.0%</text>
<line x1="43.30" y1="14.60" x2="46.50" y2="14.60" stroke="#3c3c3c" stroke-width="0.9"/>
<text x="40.00" y="18.30" text-anchor="end" font-size="9.6" textLength="26.10" lengthAdjust="spacingAndGlyphs">94.0%</text>
<text x="191.05" y="214.80" text-anchor="middle" font-size="9.6" textLength="110.50" lengthAdjust="spacingAndGlyphs">Pseudo-labeling threshold</text>
<text x="0" y="0" transform="translate(7.70,96.18) rotate(-90)" text-anchor="middle" font-size="9.6" textLength="112.8" lengthAdjust="spacingAndGlyphs">Accuracy on validation set</text>
<line x1="46.50" y1="147.30" x2="334.60" y2="147.30" stroke="#000" stroke-width="1.29" stroke-dasharray="1.29 2.136"/>
<text x="117.40" y="141.70" text-anchor="start" font-size="9.6" textLength="145.30" lengthAdjust="spacingAndGlyphs">Baseline (before pseudo-labeling)</text>
<polyline points="59.90,75.00 190.70,90.00 256.50,73.40 295.90,53.70 308.50,44.90 316.40,47.60 318.70,51.30 320.80,37.30 321.60,21.20 321.80,31.40 321.70,68.70 321.60,108.60 321.80,123.40" fill="none" stroke="#1f77b4" stroke-width="1.3" stroke-linejoin="round"/>
<circle cx="59.90" cy="75.00" r="3.0" fill="#1f77b4"/>
<circle cx="190.70" cy="90.00" r="3.0" fill="#1f77b4"/>
<circle cx="256.50" cy="73.40" r="3.0" fill="#1f77b4"/>
<circle cx="295.90" cy="53.70" r="3.0" fill="#1f77b4"/>
<circle cx="308.50" cy="44.90" r="3.0" fill="#1f77b4"/>
<circle cx="316.40" cy="47.60" r="3.0" fill="#1f77b4"/>
<circle cx="318.70" cy="51.30" r="3.0" fill="#1f77b4"/>
<circle cx="320.80" cy="37.30" r="3.0" fill="#1f77b4"/>
<circle cx="321.80" cy="31.40" r="3.0" fill="#1f77b4"/>
<circle cx="321.70" cy="68.70" r="3.0" fill="#1f77b4"/>
<circle cx="321.60" cy="108.60" r="3.0" fill="#1f77b4"/>
<circle cx="321.80" cy="123.40" r="3.0" fill="#1f77b4"/>
<polygon points="321.60,16.90 322.71,19.67 325.69,19.87 323.40,21.78 324.13,24.68 321.60,23.09 319.07,24.68 319.80,21.78 317.51,19.87 320.49,19.67" fill="#1f77b4" stroke="#1f77b4" stroke-width="0.9" stroke-linejoin="bevel"/>
<text x="190.20" y="27.50" text-anchor="start" font-size="9.6" textLength="123.60" lengthAdjust="spacingAndGlyphs">Maximum accuracy=93.53%</text>
<text x="191.00" y="37.70" text-anchor="start" font-size="9.6" textLength="82.60" lengthAdjust="spacingAndGlyphs">at threshold=0.999</text>
<rect x="50.80" y="6.50" width="68.70" height="15.80" rx="1.6" ry="1.6" fill="#fff" stroke="#d6d6d6" stroke-width="0.9"/>
<line x1="54.20" y1="14.20" x2="72.00" y2="14.20" stroke="#1f77b4" stroke-width="1.35"/>
<circle cx="63.20" cy="14.20" r="3.0" fill="#1f77b4"/>
<text x="79.00" y="17.30" text-anchor="start" font-size="9.6" textLength="36.80" lengthAdjust="spacingAndGlyphs">Xception</text>
<rect x="46.50" y="2.56" width="288.10" height="186.84" fill="none" stroke="#3c3c3c" stroke-width="0.95"/>
<line x1="431.70" y1="189.40" x2="431.70" y2="192.50" stroke="#3c3c3c" stroke-width="0.9"/>
<text x="431.70" y="202.90" text-anchor="middle" font-size="9.6" textLength="12.90" lengthAdjust="spacingAndGlyphs">0.0</text>
<line x1="484.06" y1="189.40" x2="484.06" y2="192.50" stroke="#3c3c3c" stroke-width="0.9"/>
<text x="484.06" y="202.90" text-anchor="middle" font-size="9.6" textLength="12.90" lengthAdjust="spacingAndGlyphs">0.2</text>
<line x1="536.42" y1="189.40" x2="536.42" y2="192.50" stroke="#3c3c3c" stroke-width="0.9"/>
<text x="536.42" y="202.90" text-anchor="middle" font-size="9.6" textLength="12.90" lengthAdjust="spacingAndGlyphs">0.4</text>
<line x1="588.78" y1="189.40" x2="588.78" y2="192.50" stroke="#3c3c3c" stroke-width="0.9"/>
<text x="588.78" y="202.90" text-anchor="middle" font-size="9.6" textLength="12.90" lengthAdjust="spacingAndGlyphs">0.6</text>
<line x1="641.14" y1="189.40" x2="641.14" y2="192.50" stroke="#3c3c3c" stroke-width="0.9"/>
<text x="641.14" y="202.90" text-anchor="middle" font-size="9.6" textLength="12.90" lengthAdjust="spacingAndGlyphs">0.8</text>
<line x1="693.50" y1="189.40" x2="693.50" y2="192.50" stroke="#3c3c3c" stroke-width="0.9"/>
<text x="693.50" y="202.90" text-anchor="middle" font-size="9.6" textLength="12.90" lengthAdjust="spacingAndGlyphs">1.0</text>
<line x1="415.30" y1="189.40" x2="418.50" y2="189.40" stroke="#3c3c3c" stroke-width="0.9"/>
<text x="412.00" y="193.10" text-anchor="end" font-size="9.6" textLength="26.10" lengthAdjust="spacingAndGlyphs">80.0%</text>
<line x1="415.30" y1="164.43" x2="418.50" y2="164.43" stroke="#3c3c3c" stroke-width="0.9"/>
<text x="412.00" y="168.13" text-anchor="end" font-size="9.6" textLength="26.10" lengthAdjust="spacingAndGlyphs">82.0%</text>
<line x1="415.30" y1="139.46" x2="418.50" y2="139.46" stroke="#3c3c3c" stroke-width="0.9"/>
<text x="412.00" y="143.16" text-anchor="end" font-size="9.6" textLength="26.10" lengthAdjust="spacingAndGlyphs">84.0%</text>
<line x1="415.30" y1="114.48" x2="418.50" y2="114.48" stroke="#3c3c3c" stroke-width="0.9"/>
<text x="412.00" y="118.18" text-anchor="end" font-size="9.6" textLength="26.10" lengthAdjust="spacingAndGlyphs">86.0%</text>
<line x1="415.30" y1="89.51" x2="418.50" y2="89.51" stroke="#3c3c3c" stroke-width="0.9"/>
<text x="412.00" y="93.21" text-anchor="end" font-size="9.6" textLength="26.10" lengthAdjust="spacingAndGlyphs">88.0%</text>
<line x1="415.30" y1="64.54" x2="418.50" y2="64.54" stroke="#3c3c3c" stroke-width="0.9"/>
<text x="412.00" y="68.24" text-anchor="end" font-size="9.6" textLength="26.10" lengthAdjust="spacingAndGlyphs">90.0%</text>
<line x1="415.30" y1="39.57" x2="418.50" y2="39.57" stroke="#3c3c3c" stroke-width="0.9"/>
<text x="412.00" y="43.27" text-anchor="end" font-size="9.6" textLength="26.10" lengthAdjust="spacingAndGlyphs">92.0%</text>
<line x1="415.30" y1="14.60" x2="418.50" y2="14.60" stroke="#3c3c3c" stroke-width="0.9"/>
<text x="412.00" y="18.30" text-anchor="end" font-size="9.6" textLength="26.10" lengthAdjust="spacingAndGlyphs">94.0%</text>
<text x="562.93" y="214.80" text-anchor="middle" font-size="9.6" textLength="110.50" lengthAdjust="spacingAndGlyphs">Pseudo-labeling threshold</text>
<text x="0" y="0" transform="translate(379.70,96.18) rotate(-90)" text-anchor="middle" font-size="9.6" textLength="112.8" lengthAdjust="spacingAndGlyphs">Accuracy on validation set</text>
<line x1="418.50" y1="169.70" x2="706.36" y2="169.70" stroke="#000" stroke-width="1.29" stroke-dasharray="1.29 2.136"/>
<text x="489.10" y="163.80" text-anchor="start" font-size="9.6" textLength="145.30" lengthAdjust="spacingAndGlyphs">Baseline (before pseudo-labeling)</text>
<polyline points="431.70,150.00 562.50,142.50 628.00,134.40 667.50,123.40 680.10,115.90 688.60,88.50 690.30,63.40 692.50,70.30 693.50,53.50 693.70,75.50 693.60,108.50 693.60,139.90 693.60,174.70" fill="none" stroke="#ff7f0e" stroke-width="1.3" stroke-linejoin="round"/>
<circle cx="431.70" cy="150.00" r="3.0" fill="#ff7f0e"/>
<circle cx="562.50" cy="142.50" r="3.0" fill="#ff7f0e"/>
<circle cx="628.00" cy="134.40" r="3.0" fill="#ff7f0e"/>
<circle cx="667.50" cy="123.40" r="3.0" fill="#ff7f0e"/>
<circle cx="680.10" cy="115.90" r="3.0" fill="#ff7f0e"/>
<circle cx="688.60" cy="88.50" r="3.0" fill="#ff7f0e"/>
<circle cx="690.30" cy="63.40" r="3.0" fill="#ff7f0e"/>
<circle cx="692.50" cy="70.30" r="3.0" fill="#ff7f0e"/>
<circle cx="693.70" cy="75.50" r="3.0" fill="#ff7f0e"/>
<circle cx="693.60" cy="108.50" r="3.0" fill="#ff7f0e"/>
<circle cx="693.60" cy="139.90" r="3.0" fill="#ff7f0e"/>
<circle cx="693.60" cy="174.70" r="3.0" fill="#ff7f0e"/>
<polygon points="693.50,49.20 694.61,51.97 697.59,52.17 695.30,54.08 696.03,56.98 693.50,55.39 690.97,56.98 691.70,54.08 689.41,52.17 692.39,51.97" fill="#ff7f0e" stroke="#ff7f0e" stroke-width="0.9" stroke-linejoin="bevel"/>
<text x="562.10" y="60.90" text-anchor="start" font-size="9.6" textLength="123.70" lengthAdjust="spacingAndGlyphs">Maximum accuracy=90.86%</text>
<text x="562.90" y="71.10" text-anchor="start" font-size="9.6" textLength="82.50" lengthAdjust="spacingAndGlyphs">at threshold=0.999</text>
<rect x="422.80" y="6.50" width="85.40" height="15.80" rx="1.6" ry="1.6" fill="#fff" stroke="#d6d6d6" stroke-width="0.9"/>
<line x1="426.20" y1="14.20" x2="444.00" y2="14.20" stroke="#ff7f0e" stroke-width="1.35"/>
<circle cx="435.20" cy="14.20" r="3.0" fill="#ff7f0e"/>
<text x="450.80" y="17.10" text-anchor="start" font-size="9.6" textLength="53.20" lengthAdjust="spacingAndGlyphs">MobileNetV2</text>
<rect x="418.50" y="2.56" width="287.86" height="186.84" fill="none" stroke="#3c3c3c" stroke-width="0.95"/>
<line x1="245.30" y1="440.50" x2="245.30" y2="443.60" stroke="#3c3c3c" stroke-width="0.9"/>
<text x="245.30" y="454.00" text-anchor="middle" font-size="9.6" textLength="12.90" lengthAdjust="spacingAndGlyphs">0.0</text>
<line x1="297.74" y1="440.50" x2="297.74" y2="443.60" stroke="#3c3c3c" stroke-width="0.9"/>
<text x="297.74" y="454.00" text-anchor="middle" font-size="9.6" textLength="12.90" lengthAdjust="spacingAndGlyphs">0.2</text>
<line x1="350.18" y1="440.50" x2="350.18" y2="443.60" stroke="#3c3c3c" stroke-width="0.9"/>
<text x="350.18" y="454.00" text-anchor="middle" font-size="9.6" textLength="12.90" lengthAdjust="spacingAndGlyphs">0.4</text>
<line x1="402.62" y1="440.50" x2="402.62" y2="443.60" stroke="#3c3c3c" stroke-width="0.9"/>
<text x="402.62" y="454.00" text-anchor="middle" font-size="9.6" textLength="12.90" lengthAdjust="spacingAndGlyphs">0.6</text>
<line x1="455.06" y1="440.50" x2="455.06" y2="443.60" stroke="#3c3c3c" stroke-width="0.9"/>
<text x="455.06" y="454.00" text-anchor="middle" font-size="9.6" textLength="12.90" lengthAdjust="spacingAndGlyphs">0.8</text>
<line x1="507.50" y1="440.50" x2="507.50" y2="443.60" stroke="#3c3c3c" stroke-width="0.9"/>
<text x="507.50" y="454.00" text-anchor="middle" font-size="9.6" textLength="12.90" lengthAdjust="spacingAndGlyphs">1.0</text>
<line x1="229.30" y1="440.50" x2="232.50" y2="440.50" stroke="#3c3c3c" stroke-width="0.9"/>
<text x="226.00" y="444.20" text-anchor="end" font-size="9.6" textLength="26.10" lengthAdjust="spacingAndGlyphs">80.0%</text>
<line x1="229.30" y1="415.56" x2="232.50" y2="415.56" stroke="#3c3c3c" stroke-width="0.9"/>
<text x="226.00" y="419.26" text-anchor="end" font-size="9.6" textLength="26.10" lengthAdjust="spacingAndGlyphs">82.0%</text>
<line x1="229.30" y1="390.62" x2="232.50" y2="390.62" stroke="#3c3c3c" stroke-width="0.9"/>
<text x="226.00" y="394.32" text-anchor="end" font-size="9.6" textLength="26.10" lengthAdjust="spacingAndGlyphs">84.0%</text>
<line x1="229.30" y1="365.68" x2="232.50" y2="365.68" stroke="#3c3c3c" stroke-width="0.9"/>
<text x="226.00" y="369.38" text-anchor="end" font-size="9.6" textLength="26.10" lengthAdjust="spacingAndGlyphs">86.0%</text>
<line x1="229.30" y1="340.74" x2="232.50" y2="340.74" stroke="#3c3c3c" stroke-width="0.9"/>
<text x="226.00" y="344.44" text-anchor="end" font-size="9.6" textLength="26.10" lengthAdjust="spacingAndGlyphs">88.0%</text>
<line x1="229.30" y1="315.80" x2="232.50" y2="315.80" stroke="#3c3c3c" stroke-width="0.9"/>
<text x="226.00" y="319.50" text-anchor="end" font-size="9.6" textLength="26.10" lengthAdjust="spacingAndGlyphs">90.0%</text>
<line x1="229.30" y1="290.86" x2="232.50" y2="290.86" stroke="#3c3c3c" stroke-width="0.9"/>
<text x="226.00" y="294.56" text-anchor="end" font-size="9.6" textLength="26.10" lengthAdjust="spacingAndGlyphs">92.0%</text>
<line x1="229.30" y1="265.92" x2="232.50" y2="265.92" stroke="#3c3c3c" stroke-width="0.9"/>
<text x="226.00" y="269.62" text-anchor="end" font-size="9.6" textLength="26.10" lengthAdjust="spacingAndGlyphs">94.0%</text>
<text x="377.00" y="465.90" text-anchor="middle" font-size="9.6" textLength="110.50" lengthAdjust="spacingAndGlyphs">Pseudo-labeling threshold</text>
<text x="0" y="0" transform="translate(193.70,347.18) rotate(-90)" text-anchor="middle" font-size="9.6" textLength="112.8" lengthAdjust="spacingAndGlyphs">Accuracy on validation set</text>
<line x1="232.50" y1="378.60" x2="520.50" y2="378.60" stroke="#000" stroke-width="1.29" stroke-dasharray="1.29 2.136"/>
<text x="303.40" y="372.90" text-anchor="start" font-size="9.6" textLength="145.30" lengthAdjust="spacingAndGlyphs">Baseline (before pseudo-labeling)</text>
<polyline points="245.70,359.90 376.80,358.50 442.10,335.70 481.60,333.70 494.50,327.60 502.80,305.90 505.00,308.80 506.90,300.80 507.90,288.00 508.00,285.30 508.00,282.80 507.60,265.10 507.80,318.60" fill="none" stroke="#2ca02c" stroke-width="1.3" stroke-linejoin="round"/>
<circle cx="245.70" cy="359.90" r="3.0" fill="#2ca02c"/>
<circle cx="376.80" cy="358.50" r="3.0" fill="#2ca02c"/>
<circle cx="442.10" cy="335.70" r="3.0" fill="#2ca02c"/>
<circle cx="481.60" cy="333.70" r="3.0" fill="#2ca02c"/>
<circle cx="494.50" cy="327.60" r="3.0" fill="#2ca02c"/>
<circle cx="502.80" cy="305.90" r="3.0" fill="#2ca02c"/>
<circle cx="505.00" cy="308.80" r="3.0" fill="#2ca02c"/>
<circle cx="506.90" cy="300.80" r="3.0" fill="#2ca02c"/>
<circle cx="507.90" cy="288.00" r="3.0" fill="#2ca02c"/>
<circle cx="508.00" cy="285.30" r="3.0" fill="#2ca02c"/>
<circle cx="508.00" cy="282.80" r="3.0" fill="#2ca02c"/>
<circle cx="507.80" cy="318.60" r="3.0" fill="#2ca02c"/>
<polygon points="507.60,260.80 508.71,263.57 511.69,263.77 509.40,265.68 510.13,268.58 507.60,266.99 505.07,268.58 505.80,265.68 503.51,263.77 506.49,263.57" fill="#2ca02c" stroke="#2ca02c" stroke-width="0.9" stroke-linejoin="bevel"/>
<text x="376.10" y="271.80" text-anchor="start" font-size="9.6" textLength="123.90" lengthAdjust="spacingAndGlyphs">Maximum accuracy=94.05%</text>
<text x="376.90" y="282.00" text-anchor="start" font-size="9.6" textLength="94.10" lengthAdjust="spacingAndGlyphs">at threshold=0.99999</text>
<rect x="236.80" y="257.40" width="90.30" height="15.70" rx="1.6" ry="1.6" fill="#fff" stroke="#d6d6d6" stroke-width="0.9"/>
<line x1="240.20" y1="265.05" x2="258.00" y2="265.05" stroke="#2ca02c" stroke-width="1.35"/>
<circle cx="249.20" cy="265.05" r="3.0" fill="#2ca02c"/>
<text x="264.80" y="268.10" text-anchor="start" font-size="9.6" textLength="59.00" lengthAdjust="spacingAndGlyphs">NASNet Large</text>
<rect x="232.50" y="253.45" width="288.00" height="187.05" fill="none" stroke="#3c3c3c" stroke-width="0.95"/>
</g>
<g transform="translate(0.15,0.15)" opacity="0.25">
<rect x="-2" y="-2" width="712" height="473" fill="#fff"/>
<rect x="370.6" y="0" width="2.8" height="216.5" fill="#fffff0"/>
<line x1="59.66" y1="189.40" x2="59.66" y2="192.50" stroke="#3c3c3c" stroke-width="0.9"/>
<text x="59.66" y="202.90" text-anchor="middle" font-size="9.6" textLength="12.90" lengthAdjust="spacingAndGlyphs">0.0</text>
<line x1="112.01" y1="189.40" x2="112.01" y2="192.50" stroke="#3c3c3c" stroke-width="0.9"/>
<text x="112.01" y="202.90" text-anchor="middle" font-size="9.6" textLength="12.90" lengthAdjust="spacingAndGlyphs">0.2</text>
<line x1="164.36" y1="189.40" x2="164.36" y2="192.50" stroke="#3c3c3c" stroke-width="0.9"/>
<text x="164.36" y="202.90" text-anchor="middle" font-size="9.6" textLength="12.90" lengthAdjust="spacingAndGlyphs">0.4</text>
<line x1="216.70" y1="189.40" x2="216.70" y2="192.50" stroke="#3c3c3c" stroke-width="0.9"/>
<text x="216.70" y="202.90" text-anchor="middle" font-size="9.6" textLength="12.90" lengthAdjust="spacingAndGlyphs">0.6</text>
<line x1="269.05" y1="189.40" x2="269.05" y2="192.50" stroke="#3c3c3c" stroke-width="0.9"/>
<text x="269.05" y="202.90" text-anchor="middle" font-size="9.6" textLength="12.90" lengthAdjust="spacingAndGlyphs">0.8</text>
<line x1="321.40" y1="189.40" x2="321.40" y2="192.50" stroke="#3c3c3c" stroke-width="0.9"/>
<text x="321.40" y="202.90" text-anchor="middle" font-size="9.6" textLength="12.90" lengthAdjust="spacingAndGlyphs">1.0</text>
<line x1="43.30" y1="189.40" x2="46.50" y2="189.40" stroke="#3c3c3c" stroke-width="0.9"/>
<text x="40.00" y="193.10" text-anchor="end" font-size="9.6" textLength="26.10" lengthAdjust="spacingAndGlyphs">80.0%</text>
<line x1="43.30" y1="164.43" x2="46.50" y2="164.43" stroke="#3c3c3c" stroke-width="0.9"/>
<text x="40.00" y="168.13" text-anchor="end" font-size="9.6" textLength="26.10" lengthAdjust="spacingAndGlyphs">82.0%</text>
<line x1="43.30" y1="139.46" x2="46.50" y2="139.46" stroke="#3c3c3c" stroke-width="0.9"/>
<text x="40.00" y="143.16" text-anchor="end" font-size="9.6" textLength="26.10" lengthAdjust="spacingAndGlyphs">84.0%</text>
<line x1="43.30" y1="114.48" x2="46.50" y2="114.48" stroke="#3c3c3c" stroke-width="0.9"/>
<text x="40.00" y="118.18" text-anchor="end" font-size="9.6" textLength="26.10" lengthAdjust="spacingAndGlyphs">86.0%</text>
<line x1="43.30" y1="89.51" x2="46.50" y2="89.51" stroke="#3c3c3c" stroke-width="0.9"/>
<text x="40.00" y="93.21" text-anchor="end" font-size="9.6" textLength="26.10" lengthAdjust="spacingAndGlyphs">88.0%</text>
<line x1="43.30" y1="64.54" x2="46.50" y2="64.54" stroke="#3c3c3c" stroke-width="0.9"/>
<text x="40.00" y="68.24" text-anchor="end" font-size="9.6" textLength="26.10" lengthAdjust="spacingAndGlyphs">90.0%</text>
<line x1="43.30" y1="39.57" x2="46.50" y2="39.57" stroke="#3c3c3c" stroke-width="0.9"/>
<text x="40.00" y="43.27" text-anchor="end" font-size="9.6" textLength="26.10" lengthAdjust="spacingAndGlyphs">92.0%</text>
<line x1="43.30" y1="14.60" x2="46.50" y2="14.60" stroke="#3c3c3c" stroke-width="0.9"/>
<text x="40.00" y="18.30" text-anchor="end" font-size="9.6" textLength="26.10" lengthAdjust="spacingAndGlyphs">94.0%</text>
<text x="191.05" y="214.80" text-anchor="middle" font-size="9.6" textLength="110.50" lengthAdjust="spacingAndGlyphs">Pseudo-labeling threshold</text>
<text x="0" y="0" transform="translate(7.70,96.18) rotate(-90)" text-anchor="middle" font-size="9.6" textLength="112.8" lengthAdjust="spacingAndGlyphs">Accuracy on validation set</text>
<line x1="46.50" y1="147.30" x2="334.60" y2="147.30" stroke="#000" stroke-width="1.29" stroke-dasharray="1.29 2.136"/>
<text x="117.40" y="141.70" text-anchor="start" font-size="9.6" textLength="145.30" lengthAdjust="spacingAndGlyphs">Baseline (before pseudo-labeling)</text>
<polyline points="59.90,75.00 190.70,90.00 256.50,73.40 295.90,53.70 308.50,44.90 316.40,47.60 318.70,51.30 320.80,37.30 321.60,21.20 321.80,31.40 321.70,68.70 321.60,108.60 321.80,123.40" fill="none" stroke="#1f77b4" stroke-width="1.3" stroke-linejoin="round"/>
<circle cx="59.90" cy="75.00" r="3.0" fill="#1f77b4"/>
<circle cx="190.70" cy="90.00" r="3.0" fill="#1f77b4"/>
<circle cx="256.50" cy="73.40" r="3.0" fill="#1f77b4"/>
<circle cx="295.90" cy="53.70" r="3.0" fill="#1f77b4"/>
<circle cx="308.50" cy="44.90" r="3.0" fill="#1f77b4"/>
<circle cx="316.40" cy="47.60" r="3.0" fill="#1f77b4"/>
<circle cx="318.70" cy="51.30" r="3.0" fill="#1f77b4"/>
<circle cx="320.80" cy="37.30" r="3.0" fill="#1f77b4"/>
<circle cx="321.80" cy="31.40" r="3.0" fill="#1f77b4"/>
<circle cx="321.70" cy="68.70" r="3.0" fill="#1f77b4"/>
<circle cx="321.60" cy="108.60" r="3.0" fill="#1f77b4"/>
<circle cx="321.80" cy="123.40" r="3.0" fill="#1f77b4"/>
<polygon points="321.60,16.90 322.71,19.67 325.69,19.87 323.40,21.78 324.13,24.68 321.60,23.09 319.07,24.68 319.80,21.78 317.51,19.87 320.49,19.67" fill="#1f77b4" stroke="#1f77b4" stroke-width="0.9" stroke-linejoin="bevel"/>
<text x="190.20" y="27.50" text-anchor="start" font-size="9.6" textLength="123.60" lengthAdjust="spacingAndGlyphs">Maximum accuracy=93.53%</text>
<text x="191.00" y="37.70" text-anchor="start" font-size="9.6" textLength="82.60" lengthAdjust="spacingAndGlyphs">at threshold=0.999</text>
<rect x="50.80" y="6.50" width="68.70" height="15.80" rx="1.6" ry="1.6" fill="#fff" stroke="#d6d6d6" stroke-width="0.9"/>
<line x1="54.20" y1="14.20" x2="72.00" y2="14.20" stroke="#1f77b4" stroke-width="1.35"/>
<circle cx="63.20" cy="14.20" r="3.0" fill="#1f77b4"/>
<text x="79.00" y="17.30" text-anchor="start" font-size="9.6" textLength="36.80" lengthAdjust="spacingAndGlyphs">Xception</text>
<rect x="46.50" y="2.56" width="288.10" height="186.84" fill="none" stroke="#3c3c3c" stroke-width="0.95"/>
<line x1="431.70" y1="189.40" x2="431.70" y2="192.50" stroke="#3c3c3c" stroke-width="0.9"/>
<text x="431.70" y="202.90" text-anchor="middle" font-size="9.6" textLength="12.90" lengthAdjust="spacingAndGlyphs">0.0</text>
<line x1="484.06" y1="189.40" x2="484.06" y2="192.50" stroke="#3c3c3c" stroke-width="0.9"/>
<text x="484.06" y="202.90" text-anchor="middle" font-size="9.6" textLength="12.90" lengthAdjust="spacingAndGlyphs">0.2</text>
<line x1="536.42" y1="189.40" x2="536.42" y2="192.50" stroke="#3c3c3c" stroke-width="0.9"/>
<text x="536.42" y="202.90" text-anchor="middle" font-size="9.6" textLength="12.90" lengthAdjust="spacingAndGlyphs">0.4</text>
<line x1="588.78" y1="189.40" x2="588.78" y2="192.50" stroke="#3c3c3c" stroke-width="0.9"/>
<text x="588.78" y="202.90" text-anchor="middle" font-size="9.6" textLength="12.90" lengthAdjust="spacingAndGlyphs">0.6</text>
<line x1="641.14" y1="189.40" x2="641.14" y2="192.50" stroke="#3c3c3c" stroke-width="0.9"/>
<text x="641.14" y="202.90" text-anchor="middle" font-size="9.6" textLength="12.90" lengthAdjust="spacingAndGlyphs">0.8</text>
<line x1="693.50" y1="189.40" x2="693.50" y2="192.50" stroke="#3c3c3c" stroke-width="0.9"/>
<text x="693.50" y="202.90" text-anchor="middle" font-size="9.6" textLength="12.90" lengthAdjust="spacingAndGlyphs">1.0</text>
<line x1="415.30" y1="189.40" x2="418.50" y2="189.40" stroke="#3c3c3c" stroke-width="0.9"/>
<text x="412.00" y="193.10" text-anchor="end" font-size="9.6" textLength="26.10" lengthAdjust="spacingAndGlyphs">80.0%</text>
<line x1="415.30" y1="164.43" x2="418.50" y2="164.43" stroke="#3c3c3c" stroke-width="0.9"/>
<text x="412.00" y="168.13" text-anchor="end" font-size="9.6" textLength="26.10" lengthAdjust="spacingAndGlyphs">82.0%</text>
<line x1="415.30" y1="139.46" x2="418.50" y2="139.46" stroke="#3c3c3c" stroke-width="0.9"/>
<text x="412.00" y="143.16" text-anchor="end" font-size="9.6" textLength="26.10" lengthAdjust="spacingAndGlyphs">84.0%</text>
<line x1="415.30" y1="114.48" x2="418.50" y2="114.48" stroke="#3c3c3c" stroke-width="0.9"/>
<text x="412.00" y="118.18" text-anchor="end" font-size="9.6" textLength="26.10" lengthAdjust="spacingAndGlyphs">86.0%</text>
<line x1="415.30" y1="89.51" x2="418.50" y2="89.51" stroke="#3c3c3c" stroke-width="0.9"/>
<text x="412.00" y="93.21" text-anchor="end" font-size="9.6" textLength="26.10" lengthAdjust="spacingAndGlyphs">88.0%</text>
<line x1="415.30" y1="64.54" x2="418.50" y2="64.54" stroke="#3c3c3c" stroke-width="0.9"/>
<text x="412.00" y="68.24" text-anchor="end" font-size="9.6" textLength="26.10" lengthAdjust="spacingAndGlyphs">90.0%</text>
<line x1="415.30" y1="39.57" x2="418.50" y2="39.57" stroke="#3c3c3c" stroke-width="0.9"/>
<text x="412.00" y="43.27" text-anchor="end" font-size="9.6" textLength="26.10" lengthAdjust="spacingAndGlyphs">92.0%</text>
<line x1="415.30" y1="14.60" x2="418.50" y2="14.60" stroke="#3c3c3c" stroke-width="0.9"/>
<text x="412.00" y="18.30" text-anchor="end" font-size="9.6" textLength="26.10" lengthAdjust="spacingAndGlyphs">94.0%</text>
<text x="562.93" y="214.80" text-anchor="middle" font-size="9.6" textLength="110.50" lengthAdjust="spacingAndGlyphs">Pseudo-labeling threshold</text>
<text x="0" y="0" transform="translate(379.70,96.18) rotate(-90)" text-anchor="middle" font-size="9.6" textLength="112.8" lengthAdjust="spacingAndGlyphs">Accuracy on validation set</text>
<line x1="418.50" y1="169.70" x2="706.36" y2="169.70" stroke="#000" stroke-width="1.29" stroke-dasharray="1.29 2.136"/>
<text x="489.10" y="163.80" text-anchor="start" font-size="9.6" textLength="145.30" lengthAdjust="spacingAndGlyphs">Baseline (before pseudo-labeling)</text>
<polyline points="431.70,150.00 562.50,142.50 628.00,134.40 667.50,123.40 680.10,115.90 688.60,88.50 690.30,63.40 692.50,70.30 693.50,53.50 693.70,75.50 693.60,108.50 693.60,139.90 693.60,174.70" fill="none" stroke="#ff7f0e" stroke-width="1.3" stroke-linejoin="round"/>
<circle cx="431.70" cy="150.00" r="3.0" fill="#ff7f0e"/>
<circle cx="562.50" cy="142.50" r="3.0" fill="#ff7f0e"/>
<circle cx="628.00" cy="134.40" r="3.0" fill="#ff7f0e"/>
<circle cx="667.50" cy="123.40" r="3.0" fill="#ff7f0e"/>
<circle cx="680.10" cy="115.90" r="3.0" fill="#ff7f0e"/>
<circle cx="688.60" cy="88.50" r="3.0" fill="#ff7f0e"/>
<circle cx="690.30" cy="63.40" r="3.0" fill="#ff7f0e"/>
<circle cx="692.50" cy="70.30" r="3.0" fill="#ff7f0e"/>
<circle cx="693.70" cy="75.50" r="3.0" fill="#ff7f0e"/>
<circle cx="693.60" cy="108.50" r="3.0" fill="#ff7f0e"/>
<circle cx="693.60" cy="139.90" r="3.0" fill="#ff7f0e"/>
<circle cx="693.60" cy="174.70" r="3.0" fill="#ff7f0e"/>
<polygon points="693.50,49.20 694.61,51.97 697.59,52.17 695.30,54.08 696.03,56.98 693.50,55.39 690.97,56.98 691.70,54.08 689.41,52.17 692.39,51.97" fill="#ff7f0e" stroke="#ff7f0e" stroke-width="0.9" stroke-linejoin="bevel"/>
<text x="562.10" y="60.90" text-anchor="start" font-size="9.6" textLength="123.70" lengthAdjust="spacingAndGlyphs">Maximum accuracy=90.86%</text>
<text x="562.90" y="71.10" text-anchor="start" font-size="9.6" textLength="82.50" lengthAdjust="spacingAndGlyphs">at threshold=0.999</text>
<rect x="422.80" y="6.50" width="85.40" height="15.80" rx="1.6" ry="1.6" fill="#fff" stroke="#d6d6d6" stroke-width="0.9"/>
<line x1="426.20" y1="14.20" x2="444.00" y2="14.20" stroke="#ff7f0e" stroke-width="1.35"/>
<circle cx="435.20" cy="14.20" r="3.0" fill="#ff7f0e"/>
<text x="450.80" y="17.10" text-anchor="start" font-size="9.6" textLength="53.20" lengthAdjust="spacingAndGlyphs">MobileNetV2</text>
<rect x="418.50" y="2.56" width="287.86" height="186.84" fill="none" stroke="#3c3c3c" stroke-width="0.95"/>
<line x1="245.30" y1="440.50" x2="245.30" y2="443.60" stroke="#3c3c3c" stroke-width="0.9"/>
<text x="245.30" y="454.00" text-anchor="middle" font-size="9.6" textLength="12.90" lengthAdjust="spacingAndGlyphs">0.0</text>
<line x1="297.74" y1="440.50" x2="297.74" y2="443.60" stroke="#3c3c3c" stroke-width="0.9"/>
<text x="297.74" y="454.00" text-anchor="middle" font-size="9.6" textLength="12.90" lengthAdjust="spacingAndGlyphs">0.2</text>
<line x1="350.18" y1="440.50" x2="350.18" y2="443.60" stroke="#3c3c3c" stroke-width="0.9"/>
<text x="350.18" y="454.00" text-anchor="middle" font-size="9.6" textLength="12.90" lengthAdjust="spacingAndGlyphs">0.4</text>
<line x1="402.62" y1="440.50" x2="402.62" y2="443.60" stroke="#3c3c3c" stroke-width="0.9"/>
<text x="402.62" y="454.00" text-anchor="middle" font-size="9.6" textLength="12.90" lengthAdjust="spacingAndGlyphs">0.6</text>
<line x1="455.06" y1="440.50" x2="455.06" y2="443.60" stroke="#3c3c3c" stroke-width="0.9"/>
<text x="455.06" y="454.00" text-anchor="middle" font-size="9.6" textLength="12.90" lengthAdjust="spacingAndGlyphs">0.8</text>
<line x1="507.50" y1="440.50" x2="507.50" y2="443.60" stroke="#3c3c3c" stroke-width="0.9"/>
<text x="507.50" y="454.00" text-anchor="middle" font-size="9.6" textLength="12.90" lengthAdjust="spacingAndGlyphs">1.0</text>
<line x1="229.30" y1="440.50" x2="232.50" y2="440.50" stroke="#3c3c3c" stroke-width="0.9"/>
<text x="226.00" y="444.20" text-anchor="end" font-size="9.6" textLength="26.10" lengthAdjust="spacingAndGlyphs">80.0%</text>
<line x1="229.30" y1="415.56" x2="232.50" y2="415.56" stroke="#3c3c3c" stroke-width="0.9"/>
<text x="226.00" y="419.26" text-anchor="end" font-size="9.6" textLength="26.10" lengthAdjust="spacingAndGlyphs">82.0%</text>
<line x1="229.30" y1="390.62" x2="232.50" y2="390.62" stroke="#3c3c3c" stroke-width="0.9"/>
<text x="226.00" y="394.32" text-anchor="end" font-size="9.6" textLength="26.10" lengthAdjust="spacingAndGlyphs">84.0%</text>
<line x1="229.30" y1="365.68" x2="232.50" y2="365.68" stroke="#3c3c3c" stroke-width="0.9"/>
<text x="226.00" y="369.38" text-anchor="end" font-size="9.6" textLength="26.10" lengthAdjust="spacingAndGlyphs">86.0%</text>
<line x1="229.30" y1="340.74" x2="232.50" y2="340.74" stroke="#3c3c3c" stroke-width="0.9"/>
<text x="226.00" y="344.44" text-anchor="end" font-size="9.6" textLength="26.10" lengthAdjust="spacingAndGlyphs">88.0%</text>
<line x1="229.30" y1="315.80" x2="232.50" y2="315.80" stroke="#3c3c3c" stroke-width="0.9"/>
<text x="226.00" y="319.50" text-anchor="end" font-size="9.6" textLength="26.10" lengthAdjust="spacingAndGlyphs">90.0%</text>
<line x1="229.30" y1="290.86" x2="232.50" y2="290.86" stroke="#3c3c3c" stroke-width="0.9"/>
<text x="226.00" y="294.56" text-anchor="end" font-size="9.6" textLength="26.10" lengthAdjust="spacingAndGlyphs">92.0%</text>
<line x1="229.30" y1="265.92" x2="232.50" y2="265.92" stroke="#3c3c3c" stroke-width="0.9"/>
<text x="226.00" y="269.62" text-anchor="end" font-size="9.6" textLength="26.10" lengthAdjust="spacingAndGlyphs">94.0%</text>
<text x="377.00" y="465.90" text-anchor="middle" font-size="9.6" textLength="110.50" lengthAdjust="spacingAndGlyphs">Pseudo-labeling threshold</text>
<text x="0" y="0" transform="translate(193.70,347.18) rotate(-90)" text-anchor="middle" font-size="9.6" textLength="112.8" lengthAdjust="spacingAndGlyphs">Accuracy on validation set</text>
<line x1="232.50" y1="378.60" x2="520.50" y2="378.60" stroke="#000" stroke-width="1.29" stroke-dasharray="1.29 2.136"/>
<text x="303.40" y="372.90" text-anchor="start" font-size="9.6" textLength="145.30" lengthAdjust="spacingAndGlyphs">Baseline (before pseudo-labeling)</text>
<polyline points="245.70,359.90 376.80,358.50 442.10,335.70 481.60,333.70 494.50,327.60 502.80,305.90 505.00,308.80 506.90,300.80 507.90,288.00 508.00,285.30 508.00,282.80 507.60,265.10 507.80,318.60" fill="none" stroke="#2ca02c" stroke-width="1.3" stroke-linejoin="round"/>
<circle cx="245.70" cy="359.90" r="3.0" fill="#2ca02c"/>
<circle cx="376.80" cy="358.50" r="3.0" fill="#2ca02c"/>
<circle cx="442.10" cy="335.70" r="3.0" fill="#2ca02c"/>
<circle cx="481.60" cy="333.70" r="3.0" fill="#2ca02c"/>
<circle cx="494.50" cy="327.60" r="3.0" fill="#2ca02c"/>
<circle cx="502.80" cy="305.90" r="3.0" fill="#2ca02c"/>
<circle cx="505.00" cy="308.80" r="3.0" fill="#2ca02c"/>
<circle cx="506.90" cy="300.80" r="3.0" fill="#2ca02c"/>
<circle cx="507.90" cy="288.00" r="3.0" fill="#2ca02c"/>
<circle cx="508.00" cy="285.30" r="3.0" fill="#2ca02c"/>
<circle cx="508.00" cy="282.80" r="3.0" fill="#2ca02c"/>
<circle cx="507.80" cy="318.60" r="3.0" fill="#2ca02c"/>
<polygon points="507.60,260.80 508.71,263.57 511.69,263.77 509.40,265.68 510.13,268.58 507.60,266.99 505.07,268.58 505.80,265.68 503.51,263.77 506.49,263.57" fill="#2ca02c" stroke="#2ca02c" stroke-width="0.9" stroke-linejoin="bevel"/>
<text x="376.10" y="271.80" text-anchor="start" font-size="9.6" textLength="123.90" lengthAdjust="spacingAndGlyphs">Maximum accuracy=94.05%</text>
<text x="376.90" y="282.00" text-anchor="start" font-size="9.6" textLength="94.10" lengthAdjust="spacingAndGlyphs">at threshold=0.99999</text>
<rect x="236.80" y="257.40" width="90.30" height="15.70" rx="1.6" ry="1.6" fill="#fff" stroke="#d6d6d6" stroke-width="0.9"/>
<line x1="240.20" y1="265.05" x2="258.00" y2="265.05" stroke="#2ca02c" stroke-width="1.35"/>
<circle cx="249.20" cy="265.05" r="3.0" fill="#2ca02c"/>
<text x="264.80" y="268.10" text-anchor="start" font-size="9.6" textLength="59.00" lengthAdjust="spacingAndGlyphs">NASNet Large</text>
<rect x="232.50" y="253.45" width="288.00" height="187.05" fill="none" stroke="#3c3c3c" stroke-width="0.95"/>
</g>

</svg></div>
</body></html>
